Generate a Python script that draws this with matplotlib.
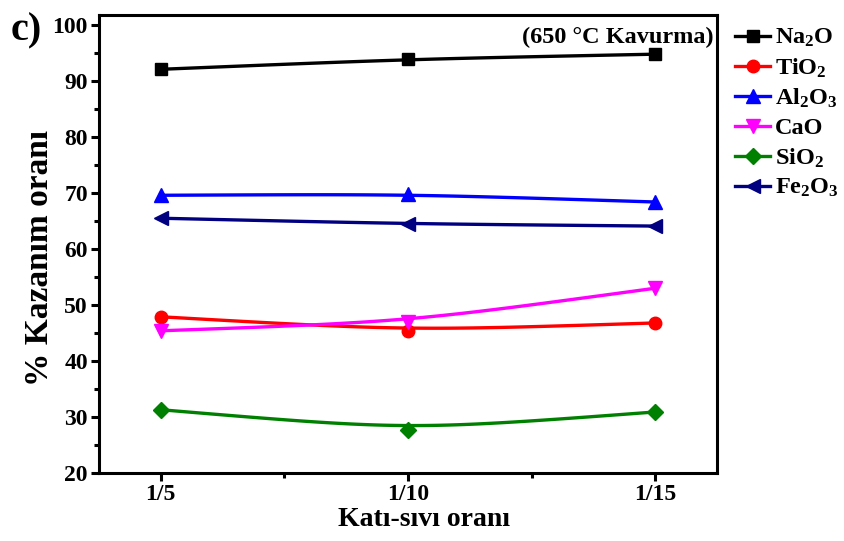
import numpy as np
import matplotlib
matplotlib.use("Agg")
import matplotlib.pyplot as plt
from matplotlib.ticker import MultipleLocator

plt.rcParams['font.family'] = ['Liberation Serif', 'DejaVu Serif']
plt.rcParams['font.weight'] = 'bold'
plt.rcParams['mathtext.fontset'] = 'custom'
plt.rcParams['mathtext.rm'] = 'Liberation Serif:bold'
plt.rcParams['mathtext.bf'] = 'Liberation Serif:bold'
plt.rcParams['mathtext.it'] = 'Liberation Serif:bold:italic'
plt.rcParams['mathtext.default'] = 'rm'

ratios = ['1/5', '1/10', '1/15']
na2o = [92.1, 93.9, 94.8]
tio2 = [47.9, 45.4, 46.8]
al2o3 = [69.6, 69.8, 68.4]
cao = [45.4, 47.0, 53.0]
sio2 = [31.3, 27.6, 30.9]
fe2o3 = [65.5, 64.5, 64.1]

series = [
    ('Na$_2$O', na2o, 'black', 's', 8),
    ('TiO$_2$', tio2, 'red', 'o', 9),
    ('Al$_2$O$_3$', al2o3, 'blue', '^', 10.5),
    ('CaO', cao, 'magenta', 'v', 10.5),
    ('SiO$_2$', sio2, 'green', 'D', 8),
    ('Fe$_2$O$_3$', fe2o3, 'navy', '<', 10.5),
]


def smooth(x, y, n=100):
    """Cubic Bezier through the end points, pulled toward the middle point."""
    t = np.linspace(0, 1, n)[:, None]
    p = np.column_stack([x, y]).astype(float)
    ctrl = [p[0], p[1], p[1], p[2]]
    b = ((1 - t) ** 3 * ctrl[0] + 3 * (1 - t) ** 2 * t * ctrl[1]
         + 3 * (1 - t) * t ** 2 * ctrl[2] + t ** 3 * ctrl[3])
    return b[:, 0], b[:, 1]


fig = plt.figure(figsize=(8.44, 5.41), dpi=100)
ax = fig.add_axes([0.1173, 0.1257, 0.7322, 0.8466])

x = np.arange(len(ratios))
handles = []
for name, vals, color, marker, ms in series:
    xs, ys = smooth(x, vals)
    ax.plot(xs, ys, color=color, lw=2.4, zorder=2)
    ax.plot(x, vals, linestyle='none', marker=marker, ms=ms, color=color, zorder=3)
    h, = ax.plot([], [], color=color, lw=2.4, marker=marker, ms=ms, label=name)
    handles.append(h)

ax.set_xlim(-0.25, 2.25)
ax.set_ylim(20, 101.8)
ax.set_xticks(x)
ax.set_xticklabels(ratios)
ax.xaxis.set_minor_locator(MultipleLocator(0.5))
ax.yaxis.set_major_locator(MultipleLocator(10))
ax.yaxis.set_minor_locator(MultipleLocator(5))

for s in ax.spines.values():
    s.set_linewidth(2.2)
ax.tick_params(which='major', direction='out', length=6, width=2.2, labelsize=17, pad=2)
ax.tick_params(which='minor', direction='out', length=3.5, width=2.2)
for lab in ax.get_xticklabels() + ax.get_yticklabels():
    lab.set_fontweight('bold')

ax.set_xlabel('Katı-sıvı oranı', fontsize=20, fontweight='bold')
ax.set_ylabel('% Kazanım oranı', fontsize=24, fontweight='bold')
ax.xaxis.set_label_coords(0.526, -0.074)
ax.yaxis.set_label_coords(-0.072, 0.47)

ax.text(0.995, 0.975, '(650 °C Kavurma)', transform=ax.transAxes,
        ha='right', va='top', fontsize=17.5, fontweight='bold')
fig.text(0.013, 0.943, 'c)', fontsize=29, fontweight='bold', va='center')

leg = fig.legend(handles=handles, loc='upper left', bbox_to_anchor=(0.871, 0.95),
                 frameon=False, fontsize=17.5, handlelength=1.45, handletextpad=0.2,
                 labelspacing=0.295, borderaxespad=0, borderpad=0)
for t in leg.get_texts():
    t.set_fontweight('bold')

fig.savefig('out.png', dpi=100)
